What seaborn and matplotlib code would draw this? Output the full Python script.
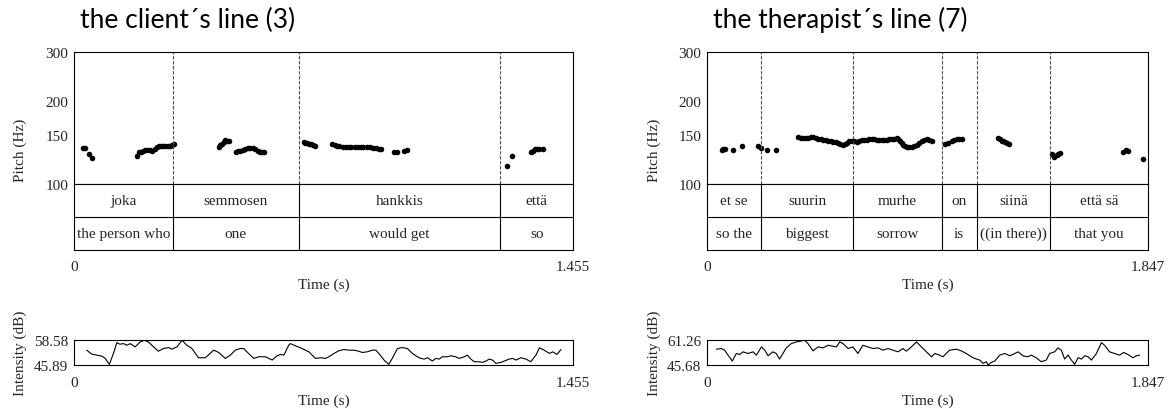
import matplotlib
matplotlib.use("Agg")
import matplotlib.pyplot as plt
from matplotlib.ticker import NullLocator
import seaborn as sns

sns.set_style("white")
plt.rcParams["font.family"] = ["Liberation Serif", "DejaVu Serif"]

# ---- client's line (3) ----
client_dur = 1.455
client_bounds = [0.288, 0.655, 1.243]
client_words = ["joka", "semmosen", "hankkis", "että"]
client_gloss = ["the person who", "one", "would get", "so"]
client_pitch_t = [0.025, 0.032, 0.044, 0.053,
                  0.183, 0.190, 0.196, 0.202, 0.207, 0.213, 0.221, 0.228, 0.235,
                  0.243, 0.248, 0.254, 0.260, 0.266, 0.273, 0.281, 0.286, 0.292,
                  0.422, 0.427, 0.432, 0.436, 0.441, 0.447, 0.453, 0.472, 0.479,
                  0.485, 0.492, 0.500, 0.507, 0.514, 0.522, 0.529, 0.536, 0.543,
                  0.549, 0.555,
                  0.670, 0.675, 0.680, 0.685, 0.691, 0.698, 0.704,
                  0.753, 0.760, 0.768, 0.774, 0.783, 0.792, 0.801, 0.809, 0.818,
                  0.827, 0.836, 0.844, 0.853, 0.862, 0.871, 0.880, 0.888, 0.894,
                  0.933, 0.943, 0.962, 0.972,
                  1.264, 1.276, 1.332, 1.338, 1.344, 1.350, 1.357, 1.367]
client_pitch_hz = [135, 134.5, 128, 124,
                   126, 130, 131, 132, 133, 133, 133, 132, 134,
                   136.5, 137, 137.5, 137.5, 137, 137, 137, 138, 139.5,
                   136.5, 138, 139.5, 142, 144, 143.5, 142.5, 131, 131.5,
                   132, 133, 133.5, 134.5, 135, 134.5, 133.5, 132, 131,
                   130.5, 130.5,
                   141.5, 141, 140.5, 139.5, 139, 138.5, 137.5,
                   139.5, 138, 137, 137, 136.5, 136.5, 136.5, 136.5, 136.5,
                   136.5, 136, 136, 135.5, 135.5, 135, 135, 134, 133.5,
                   130, 130.5, 131.5, 133,
                   116.5, 126, 130, 132, 133.5, 134, 134, 133.5]
client_int_range = (45.89, 58.58)
client_int_t = [0.037, 0.052, 0.066, 0.081, 0.091, 0.103, 0.115, 0.125, 0.134, 0.144,
                0.154, 0.164, 0.178, 0.193, 0.205, 0.217, 0.232, 0.246, 0.261, 0.276,
                0.285, 0.300, 0.315, 0.329, 0.344, 0.363, 0.383, 0.397, 0.407, 0.422,
                0.441, 0.456, 0.470, 0.485, 0.495, 0.509, 0.524, 0.539, 0.558, 0.578,
                0.592, 0.602, 0.612, 0.626, 0.631, 0.646, 0.665, 0.685, 0.704, 0.719,
                0.733, 0.743, 0.758, 0.772, 0.787, 0.802, 0.816, 0.826, 0.841, 0.855,
                0.870, 0.880, 0.889, 0.904, 0.918, 0.928, 0.943, 0.957, 0.972, 0.987,
                1.001, 1.011, 1.021, 1.031, 1.045, 1.055, 1.065, 1.074, 1.089, 1.099,
                1.113, 1.123, 1.138, 1.147, 1.157, 1.167, 1.181, 1.191, 1.201, 1.211,
                1.220, 1.230, 1.245, 1.255, 1.269, 1.279, 1.289, 1.303, 1.318, 1.332,
                1.347, 1.357, 1.371, 1.386, 1.396, 1.408, 1.420]
client_int_db = [53.42, 51.41, 50.91, 50.41, 49.24, 46.23, 51.74, 57.26, 56.43, 56.76,
                 55.92, 56.76, 55.09, 57.60, 58.43, 57.60, 55.09, 52.91, 54.25, 54.75,
                 53.92, 55.09, 58.43, 55.92, 54.25, 49.57, 49.57, 51.74, 53.42, 52.25,
                 49.24, 50.91, 53.42, 54.25, 54.25, 51.74, 49.24, 50.07, 50.07, 48.40,
                 50.57, 51.24, 50.91, 55.92, 56.76, 55.59, 54.25, 52.58, 49.24, 49.57,
                 49.24, 50.07, 51.74, 53.08, 53.75, 53.42, 53.42, 53.08, 52.25, 52.58,
                 53.42, 53.42, 51.74, 48.40, 46.23, 49.24, 54.25, 54.75, 54.25, 51.74,
                 50.07, 49.24, 48.90, 49.57, 47.90, 49.24, 48.90, 50.07, 50.07, 50.57,
                 50.07, 49.24, 50.07, 50.91, 48.90, 47.56, 47.56, 47.23, 47.90, 48.90,
                 48.40, 46.73, 47.23, 47.90, 48.90, 49.24, 48.40, 49.57, 48.90, 47.56,
                 50.91, 54.59, 53.42, 51.74, 52.58, 51.24, 53.75]

# ---- therapist's line (7) ----
ther_dur = 1.847
ther_bounds = [0.226, 0.613, 0.983, 1.129, 1.438]
ther_words = ["et se", "suurin", "murhe", "on", "siinä", "että sä"]
ther_gloss = ["so the", "biggest", "sorrow", "is", "((in there))", "that you"]
ther_pitch_t = [0.062, 0.069, 0.075, 0.110, 0.148, 0.215, 0.226, 0.250, 0.289,
                0.382, 0.393, 0.403, 0.414, 0.424, 0.435, 0.445, 0.456, 0.466, 0.477,
                0.487, 0.498, 0.508, 0.518, 0.529, 0.539, 0.550, 0.559, 0.568, 0.577,
                0.585, 0.596, 0.606, 0.617, 0.627, 0.637, 0.648, 0.658, 0.669, 0.679,
                0.690, 0.700, 0.711, 0.721, 0.732, 0.742, 0.753, 0.763, 0.774, 0.784,
                0.795, 0.802, 0.808, 0.816, 0.822, 0.829, 0.836, 0.847, 0.857, 0.868,
                0.878, 0.889, 0.899, 0.910, 0.920, 0.931, 0.941,
                0.997, 1.011, 1.025, 1.034, 1.046, 1.055, 1.067,
                1.220, 1.227, 1.234, 1.241, 1.248, 1.256, 1.266,
                1.444, 1.453, 1.465, 1.472, 1.478,
                1.744, 1.755, 1.765, 1.825]
ther_pitch_hz = [133, 133.5, 134, 133, 137, 137.5, 135, 133, 133,
                 147.5, 147, 146.6, 146.6, 146.6, 147.5, 148, 147, 145.4, 145,
                 144.6, 144, 143.4, 143, 142.2, 141.5, 140.7, 139.5, 138.7, 140,
                 140.7, 142.5, 143.4, 143, 142.2, 143.5, 144.6, 144.6, 144.6, 145,
                 145.4, 145, 144.6, 144.6, 144.5, 144.5, 144.5, 145, 145.4, 146,
                 146.6, 145.5, 143.4, 141, 138.7, 137.5, 136.4, 136.4, 136.4, 137.5,
                 138.7, 141, 143.4, 144.6, 145.4, 144.6, 143.4,
                 139.5, 140.7, 143.4, 144.5, 145.4, 145.4, 145.4,
                 146.4, 145, 143.4, 142.5, 141.5, 140.5, 139.5,
                 128.4, 125, 127.3, 128.5, 129.7,
                 130.7, 132.3, 131.5, 123]
ther_int_range = (45.68, 61.26)
ther_int_t = [0.039, 0.060, 0.074, 0.088, 0.106, 0.123, 0.137, 0.151, 0.172, 0.193,
              0.207, 0.228, 0.242, 0.256, 0.276, 0.290, 0.304, 0.318, 0.332, 0.353,
              0.374, 0.395, 0.409, 0.423, 0.444, 0.465, 0.486, 0.507, 0.521, 0.542,
              0.556, 0.570, 0.591, 0.611, 0.632, 0.653, 0.674, 0.695, 0.716, 0.737,
              0.758, 0.779, 0.800, 0.821, 0.835, 0.856, 0.877, 0.898, 0.919, 0.940,
              0.954, 0.974, 0.988, 1.016, 1.044, 1.065, 1.086, 1.107, 1.121, 1.142,
              1.156, 1.170, 1.177, 1.191, 1.205, 1.226, 1.247, 1.268, 1.289, 1.303,
              1.323, 1.344, 1.358, 1.379, 1.400, 1.421, 1.435, 1.456, 1.470, 1.484,
              1.498, 1.512, 1.526, 1.540, 1.554, 1.568, 1.582, 1.596, 1.610, 1.631,
              1.652, 1.665, 1.686, 1.707, 1.728, 1.745, 1.763, 1.784, 1.798, 1.812]
ther_int_db = [55.53, 55.94, 54.91, 51.83, 48.14, 52.86, 52.24, 53.89, 52.86, 53.89,
               51.83, 56.96, 54.91, 51.42, 53.89, 52.86, 49.37, 52.86, 56.35, 59.02,
               60.04, 60.66, 61.07, 59.02, 54.50, 56.96, 56.35, 57.99, 57.58, 56.96,
               60.04, 59.02, 55.94, 56.96, 52.86, 57.99, 56.96, 55.94, 56.35, 54.91,
               55.94, 54.91, 53.89, 55.94, 54.30, 56.96, 60.04, 56.96, 53.89, 50.81,
               52.86, 51.83, 50.81, 54.91, 55.53, 54.50, 52.86, 50.81, 49.78, 48.75,
               46.70, 47.73, 45.67, 47.32, 48.14, 51.83, 52.86, 51.42, 52.86, 53.89,
               51.42, 50.81, 51.83, 50.19, 47.73, 48.75, 52.86, 53.89, 56.35, 54.91,
               49.37, 51.83, 48.75, 46.08, 50.19, 49.37, 51.42, 50.81, 48.75, 52.86,
               59.63, 57.99, 53.89, 52.86, 51.83, 53.47, 52.24, 50.19, 51.42, 51.83]

W, H = 1171, 410
FS = 11
fig = plt.figure(figsize=(W / 100, H / 100), dpi=100)


def box(x0, y0, x1, y1):
    return [x0 / W, 1 - y1 / H, (x1 - x0) / W, (y1 - y0) / H]


def style_ax(ax):
    for s in ax.spines.values():
        s.set_visible(True)
        s.set_color("black")
        s.set_linewidth(0.8)
    ax.tick_params(direction="out", length=3.5, width=0.8, color="black",
                   labelsize=FS, pad=0.5)


def draw_line(x0, x1, title, dur, bounds, words, gloss, pt, phz, it, idb, irange, ylab_x):
    # titulo
    fig.text((x0 + 6) / W, 1 - 20 / H, title, family="Lato", fontsize=19,
             ha="left", va="center", color="black")

    # pitch
    ax = fig.add_axes(box(x0, 53, x1, 185))
    sns.scatterplot(x=pt, y=phz, ax=ax, color="black", s=16, linewidth=0)
    ax.set_yscale("log")
    ax.set_ylim(100, 300)
    ax.set_xlim(0, dur)
    ax.set_yticks([100, 150, 200, 300])
    ax.set_yticklabels(["100", "150", "200", "300"])
    ax.yaxis.set_minor_locator(NullLocator())
    ax.set_xticks([])
    style_ax(ax)
    for b in bounds:
        ax.axvline(b, color="0.3", lw=0.8, ls=(0, (3, 1.5)))
    ax.set_ylabel("Pitch (Hz)", fontsize=FS)
    # centrado sobre pitch + tiers (y ~150 px)
    ax.yaxis.set_label_coords((ylab_x - x0) / (x1 - x0), (185 - 150) / 132)

    # tiers
    tx = fig.add_axes(box(x0, 185, x1, 251))
    tx.set_xlim(0, dur)
    tx.set_ylim(0, 2)
    tx.axhline(1, color="black", lw=0.8)
    for b in bounds:
        tx.axvline(b, color="black", lw=0.8)
    edges = [0] + bounds + [dur]
    for i in range(len(words)):
        mid = (edges[i] + edges[i + 1]) / 2
        tx.text(mid, 1.5, words[i], ha="center", va="center", fontsize=FS)
        tx.text(mid, 0.5, gloss[i], ha="center", va="center", fontsize=FS)
    tx.set_yticks([])
    tx.set_xticks([0, dur])
    tx.set_xticklabels(["0", f"{dur:.3f}"])
    style_ax(tx)
    tx.tick_params(axis="x", pad=4)
    tx.set_xlabel("Time (s)", fontsize=FS, labelpad=3)

    # intensity
    ix = fig.add_axes(box(x0, 341, x1, 366))
    sns.lineplot(x=it, y=idb, ax=ix, color="black", lw=0.8)
    ix.set_xlim(0, dur)
    ix.set_ylim(*irange)
    ix.set_yticks(list(irange))
    ix.set_yticklabels([f"{v:.2f}" for v in irange])
    ix.set_xticks([0, dur])
    ix.set_xticklabels(["0", f"{dur:.3f}"])
    style_ax(ix)
    ix.tick_params(axis="x", length=0, pad=8)
    ix.set_xlabel("Time (s)", fontsize=FS, labelpad=3)
    ix.set_ylabel("Intensity (dB)", fontsize=FS)
    ix.yaxis.set_label_coords((ylab_x - x0) / (x1 - x0), 0.5)


draw_line(74, 573, "the client\u00b4s line (3)", client_dur, client_bounds, client_words,
          client_gloss, client_pitch_t, client_pitch_hz, client_int_t, client_int_db,
          client_int_range, 27)
draw_line(707, 1148, "the therapist\u00b4s line (7)", ther_dur, ther_bounds, ther_words,
          ther_gloss, ther_pitch_t, ther_pitch_hz, ther_int_t, ther_int_db,
          ther_int_range, 661)

fig.savefig("out.png", dpi=100)
